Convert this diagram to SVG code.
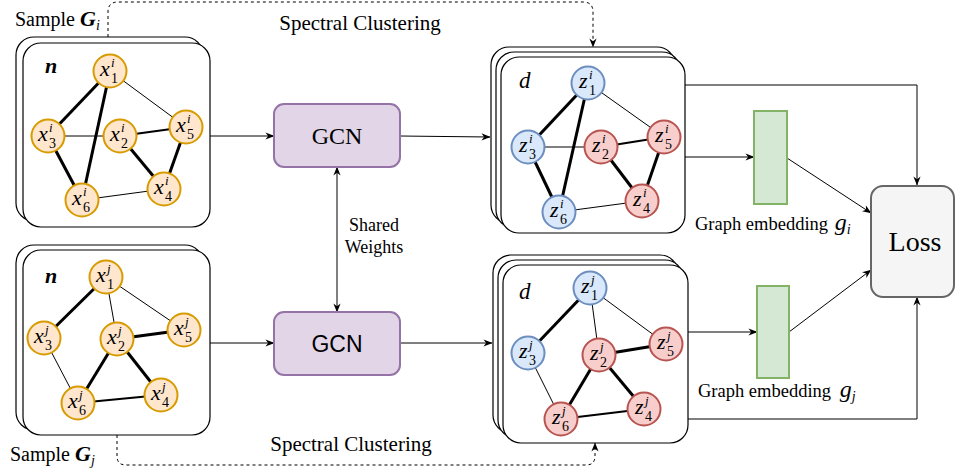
<svg xmlns="http://www.w3.org/2000/svg" width="956" height="472" viewBox="0 0 956 472">
<style>
text{font-family:"Liberation Serif","Times New Roman",serif;fill:#000}
.frame{fill:#fff;stroke:#000;stroke-width:1.2}
.ow{fill:#ffe6cc;stroke:#d79b00;stroke-width:2}
.bl{fill:#dae8fc;stroke:#6c8ebf;stroke-width:2}
.rd{fill:#f8cecc;stroke:#b85450;stroke-width:2}
.e1{stroke:#000;stroke-width:1}
.e2{stroke:#000;stroke-width:2}
.e3{stroke:#000;stroke-width:3}
.v{font-size:22px;font-style:italic}
.sp{font-size:13px;font-style:italic}
.sb{font-size:14px;font-style:normal}
.conn{fill:none;stroke:#000;stroke-width:1}
.dash{fill:none;stroke:#000;stroke-width:1;stroke-dasharray:3 3}
.gcn{fill:#e1d5e7;stroke:#9673a6;stroke-width:2}
.emb{fill:#d5e8d4;stroke:#82b366;stroke-width:2}
.loss{fill:#f5f5f5;stroke:#666666;stroke-width:2}
</style>
<defs>
<marker id="ar" viewBox="0 0 10 10" refX="9.5" refY="5" markerWidth="9" markerHeight="9" markerUnits="userSpaceOnUse" orient="auto-start-reverse">
<path d="M0,1 L10,5 L0,9 L3,5 z" fill="#000"/>
</marker>
</defs>

<!-- Frames -->
<g id="frame-gi">
<rect class="frame" x="16" y="37" width="187" height="184" rx="18"/>
<rect class="frame" x="23" y="43" width="187" height="184" rx="18"/>
<text x="45" y="73" font-size="22" font-style="italic" font-weight="bold">n</text>
</g>
<g id="frame-gj">
<rect class="frame" x="16" y="245" width="187" height="185" rx="18"/>
<rect class="frame" x="23" y="250" width="187" height="185" rx="18"/>
<text x="45" y="283" font-size="22" font-style="italic" font-weight="bold">n</text>
</g>
<g id="frame-zi">
<rect class="frame" x="491" y="47" width="184" height="176" rx="18"/>
<rect class="frame" x="496" y="52" width="184" height="176" rx="18"/>
<rect class="frame" x="501" y="57" width="184" height="176" rx="18"/>
<text x="519" y="88" font-size="23" font-style="italic">d</text>
</g>
<g id="frame-zj">
<rect class="frame" x="493" y="255" width="185" height="178" rx="18"/>
<rect class="frame" x="498" y="260" width="185" height="178" rx="18"/>
<rect class="frame" x="503" y="265" width="185" height="178" rx="18"/>
<text x="519" y="299" font-size="23" font-style="italic">d</text>
</g>

<!-- Graph edges -->
<g id="edges-xi">
<line class="e3" x1="110" y1="71" x2="48" y2="136"/>
<line class="e3" x1="110" y1="71" x2="82" y2="200"/>
<line class="e1" x1="110" y1="71" x2="186" y2="127"/>
<line class="e1" x1="48" y1="136" x2="120" y2="136"/>
<line class="e2" x1="120" y1="136" x2="186" y2="127"/>
<line class="e3" x1="120" y1="136" x2="164" y2="189"/>
<line class="e3" x1="186" y1="127" x2="164" y2="189"/>
<line class="e3" x1="48" y1="136" x2="82" y2="200"/>
<line class="e1" x1="82" y1="200" x2="164" y2="189"/>
</g>
<g id="edges-xj">
<line class="e3" x1="106" y1="277" x2="44" y2="338"/>
<line class="e1" x1="106" y1="277" x2="117" y2="339"/>
<line class="e1" x1="106" y1="277" x2="184" y2="330"/>
<line class="e1" x1="44" y1="338" x2="78" y2="403"/>
<line class="e3" x1="117" y1="339" x2="184" y2="330"/>
<line class="e3" x1="117" y1="339" x2="78" y2="403"/>
<line class="e3" x1="117" y1="339" x2="161" y2="395"/>
<line class="e2" x1="78" y1="403" x2="161" y2="395"/>
</g>
<g id="edges-zi">
<line class="e3" x1="588" y1="83" x2="528" y2="147"/>
<line class="e3" x1="588" y1="83" x2="559" y2="212"/>
<line class="e1" x1="588" y1="83" x2="664" y2="137"/>
<line class="e1" x1="528" y1="147" x2="601" y2="147"/>
<line class="e2" x1="601" y1="147" x2="664" y2="137"/>
<line class="e3" x1="601" y1="147" x2="642" y2="201"/>
<line class="e3" x1="664" y1="137" x2="642" y2="201"/>
<line class="e3" x1="528" y1="147" x2="559" y2="212"/>
<line class="e1" x1="559" y1="212" x2="642" y2="201"/>
</g>
<g id="edges-zj">
<line class="e3" x1="590" y1="288" x2="528" y2="353"/>
<line class="e1" x1="590" y1="288" x2="599" y2="355"/>
<line class="e1" x1="590" y1="288" x2="666" y2="344"/>
<line class="e1" x1="528" y1="353" x2="561" y2="419"/>
<line class="e3" x1="599" y1="355" x2="666" y2="344"/>
<line class="e3" x1="599" y1="355" x2="561" y2="419"/>
<line class="e3" x1="599" y1="355" x2="644" y2="409"/>
<line class="e2" x1="561" y1="419" x2="644" y2="409"/>
</g>

<!-- x^i nodes -->
<g id="xi1"><circle class="ow" cx="110" cy="71" r="16.5"/><text class="v" x="100" y="76">x<tspan class="sp" x="111" y="67">i</tspan><tspan class="sb" x="111" y="83">1</tspan></text></g>
<g id="xi3"><circle class="ow" cx="48" cy="136" r="16.5"/><text class="v" x="38" y="141">x<tspan class="sp" x="49" y="132">i</tspan><tspan class="sb" x="49" y="148">3</tspan></text></g>
<g id="xi2"><circle class="ow" cx="120" cy="136" r="16.5"/><text class="v" x="110" y="141">x<tspan class="sp" x="121" y="132">i</tspan><tspan class="sb" x="121" y="148">2</tspan></text></g>
<g id="xi5"><circle class="ow" cx="186" cy="127" r="16.5"/><text class="v" x="176" y="132">x<tspan class="sp" x="187" y="123">i</tspan><tspan class="sb" x="187" y="139">5</tspan></text></g>
<g id="xi4"><circle class="ow" cx="164" cy="189" r="16.5"/><text class="v" x="154" y="194">x<tspan class="sp" x="165" y="185">i</tspan><tspan class="sb" x="165" y="201">4</tspan></text></g>
<g id="xi6"><circle class="ow" cx="82" cy="200" r="16.5"/><text class="v" x="72" y="205">x<tspan class="sp" x="83" y="196">i</tspan><tspan class="sb" x="83" y="212">6</tspan></text></g>

<!-- x^j nodes -->
<g id="xj1"><circle class="ow" cx="106" cy="277" r="16.5"/><text class="v" x="96" y="282">x<tspan class="sp" x="107" y="273">j</tspan><tspan class="sb" x="107" y="289">1</tspan></text></g>
<g id="xj3"><circle class="ow" cx="44" cy="338" r="16.5"/><text class="v" x="34" y="343">x<tspan class="sp" x="45" y="334">j</tspan><tspan class="sb" x="45" y="350">3</tspan></text></g>
<g id="xj2"><circle class="ow" cx="117" cy="339" r="16.5"/><text class="v" x="107" y="344">x<tspan class="sp" x="118" y="335">j</tspan><tspan class="sb" x="118" y="351">2</tspan></text></g>
<g id="xj5"><circle class="ow" cx="184" cy="330" r="16.5"/><text class="v" x="174" y="335">x<tspan class="sp" x="185" y="326">j</tspan><tspan class="sb" x="185" y="342">5</tspan></text></g>
<g id="xj4"><circle class="ow" cx="161" cy="395" r="16.5"/><text class="v" x="151" y="400">x<tspan class="sp" x="162" y="391">j</tspan><tspan class="sb" x="162" y="407">4</tspan></text></g>
<g id="xj6"><circle class="ow" cx="78" cy="403" r="16.5"/><text class="v" x="68" y="408">x<tspan class="sp" x="79" y="399">j</tspan><tspan class="sb" x="79" y="415">6</tspan></text></g>

<!-- z^i nodes -->
<g id="zi1"><circle class="bl" cx="588" cy="83" r="16.5"/><text class="v" x="579" y="88">z<tspan class="sp" x="589" y="79">i</tspan><tspan class="sb" x="589" y="95">1</tspan></text></g>
<g id="zi3"><circle class="bl" cx="528" cy="147" r="16.5"/><text class="v" x="519" y="152">z<tspan class="sp" x="529" y="143">i</tspan><tspan class="sb" x="529" y="159">3</tspan></text></g>
<g id="zi2"><circle class="rd" cx="601" cy="147" r="16.5"/><text class="v" x="592" y="152">z<tspan class="sp" x="602" y="143">i</tspan><tspan class="sb" x="602" y="159">2</tspan></text></g>
<g id="zi5"><circle class="rd" cx="664" cy="137" r="16.5"/><text class="v" x="655" y="142">z<tspan class="sp" x="665" y="133">i</tspan><tspan class="sb" x="665" y="149">5</tspan></text></g>
<g id="zi4"><circle class="rd" cx="642" cy="201" r="16.5"/><text class="v" x="633" y="206">z<tspan class="sp" x="643" y="197">i</tspan><tspan class="sb" x="643" y="213">4</tspan></text></g>
<g id="zi6"><circle class="bl" cx="559" cy="212" r="16.5"/><text class="v" x="550" y="217">z<tspan class="sp" x="560" y="208">i</tspan><tspan class="sb" x="560" y="224">6</tspan></text></g>

<!-- z^j nodes -->
<g id="zj1"><circle class="bl" cx="590" cy="288" r="16.5"/><text class="v" x="581" y="293">z<tspan class="sp" x="591" y="284">j</tspan><tspan class="sb" x="591" y="300">1</tspan></text></g>
<g id="zj3"><circle class="bl" cx="528" cy="353" r="16.5"/><text class="v" x="519" y="358">z<tspan class="sp" x="529" y="349">j</tspan><tspan class="sb" x="529" y="365">3</tspan></text></g>
<g id="zj2"><circle class="rd" cx="599" cy="355" r="16.5"/><text class="v" x="590" y="360">z<tspan class="sp" x="600" y="351">j</tspan><tspan class="sb" x="600" y="367">2</tspan></text></g>
<g id="zj5"><circle class="rd" cx="666" cy="344" r="16.5"/><text class="v" x="657" y="349">z<tspan class="sp" x="667" y="340">j</tspan><tspan class="sb" x="667" y="356">5</tspan></text></g>
<g id="zj4"><circle class="rd" cx="644" cy="409" r="16.5"/><text class="v" x="635" y="414">z<tspan class="sp" x="645" y="405">j</tspan><tspan class="sb" x="645" y="421">4</tspan></text></g>
<g id="zj6"><circle class="rd" cx="561" cy="419" r="16.5"/><text class="v" x="552" y="424">z<tspan class="sp" x="562" y="415">j</tspan><tspan class="sb" x="562" y="431">6</tspan></text></g>

<!-- Connectors -->
<g id="connectors">
<line class="conn" x1="210" y1="136" x2="274" y2="136" marker-end="url(#ar)"/>
<line class="conn" x1="210" y1="343" x2="274" y2="343" marker-end="url(#ar)"/>
<line class="conn" x1="400" y1="136" x2="490" y2="137" marker-end="url(#ar)"/>
<line class="conn" x1="400" y1="343" x2="492" y2="343" marker-end="url(#ar)"/>
<line class="conn" x1="337" y1="167" x2="337" y2="312" marker-start="url(#ar)" marker-end="url(#ar)"/>
<line class="conn" x1="685" y1="157" x2="754" y2="157" marker-end="url(#ar)"/>
<line class="conn" x1="688" y1="332" x2="757" y2="332" marker-end="url(#ar)"/>
<line class="conn" x1="787" y1="158" x2="871" y2="213" marker-end="url(#ar)"/>
<line class="conn" x1="789" y1="332" x2="871" y2="270" marker-end="url(#ar)"/>
<path class="conn" d="M685,85 H917 V185" marker-end="url(#ar)"/>
<path class="conn" d="M688,419 H917 V297" marker-end="url(#ar)"/>
<path class="dash" d="M108,37 V12 Q108,2 118,2 H583 Q593,2 593,12 V47" marker-end="url(#ar)"/>
<path class="dash" d="M117,435 V456 Q117,465 126,465 H586 Q595,465 595,456 V443" marker-end="url(#ar)"/>
</g>

<!-- Boxes -->
<g id="gcn-top">
<rect class="gcn" x="274" y="104" width="126" height="63" rx="10"/>
<text x="337" y="144" font-size="24" text-anchor="middle">GCN</text>
</g>
<g id="gcn-bottom">
<rect class="gcn" x="274" y="312" width="126" height="63" rx="10"/>
<text x="337" y="352" font-size="23" text-anchor="middle" style="font-family:'Liberation Sans',Arial,sans-serif">GCN</text>
</g>
<g id="emb-i"><rect class="emb" x="754" y="111" width="33" height="93"/></g>
<g id="emb-j"><rect class="emb" x="757" y="286" width="32" height="92"/></g>
<g id="loss">
<rect class="loss" x="871" y="186" width="83" height="111" rx="12"/>
<text x="915" y="251" font-size="28" text-anchor="middle" fill="#333">Loss</text>
</g>

<!-- Labels -->
<text x="374" y="231" text-anchor="middle" font-size="18">Shared</text>
<text x="374" y="253" text-anchor="middle" font-size="18">Weights</text>
<text x="360" y="30" text-anchor="middle" font-size="21">Spectral Clustering</text>
<text x="351" y="451" text-anchor="middle" font-size="21">Spectral Clustering</text>
<text x="15" y="26" font-size="20">Sample <tspan font-size="22" font-style="italic" font-weight="bold">G</tspan><tspan font-size="14" font-style="italic" dy="4">i</tspan></text>
<text x="10" y="461" font-size="20">Sample <tspan font-size="22" font-style="italic" font-weight="bold">G</tspan><tspan font-size="14" font-style="italic" dy="4">j</tspan></text>
<text x="695" y="230" font-size="18.5">Graph embedding <tspan font-size="24" font-style="italic" dx="2">g</tspan><tspan font-size="14" font-style="italic" dy="4">i</tspan></text>
<text x="698" y="397" font-size="18.5">Graph embedding <tspan font-size="24" font-style="italic" dx="4">g</tspan><tspan font-size="14" font-style="italic" dy="4">j</tspan></text>
</svg>
